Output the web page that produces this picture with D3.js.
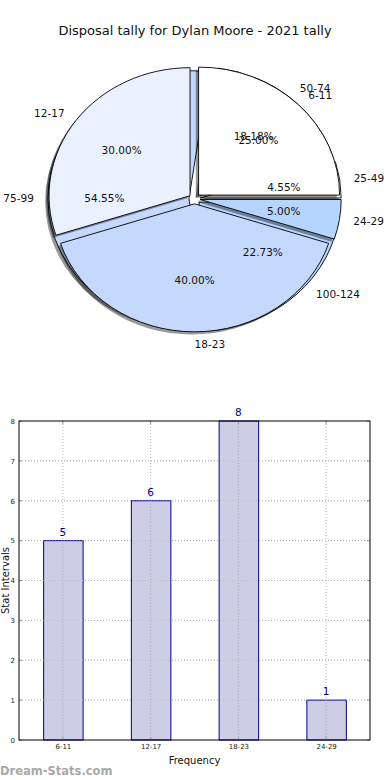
<!DOCTYPE html>
<html><head><meta charset="utf-8">
<script src="https://cdn.jsdelivr.net/npm/d3@7"></script>
<style>
html,body{margin:0;padding:0;background:#fff;}
svg{display:block;font-family:"DejaVu Sans",sans-serif;}
</style></head>
<body>
<svg id="c" width="390" height="780"></svg>
<script>
// ---------- data ----------
const titleText = "Disposal tally for Dylan Moore - 2021 tally";
const pieACats = ["6-11", "12-17", "18-23", "24-29"];
const pieAVals = [5, 6, 8, 1];
const pieBCats = ["25-49", "50-74", "75-99", "100-124"];
const pieBVals = [1, 4, 12, 5];
const pieColors = ["#ffffff", "#eaf1fe", "#c5d8fe", "#b6d5fe"];
const barCats = ["6-11", "12-17", "18-23", "24-29"];
const barVals = [5, 6, 8, 1];
const yTicks = [0, 1, 2, 3, 4, 5, 6, 7, 8];

const svg = d3.select("#c");

// ---------- title ----------
svg.append("text").attr("x", 195).attr("y", 35).attr("text-anchor", "middle")
  .attr("font-size", 13).attr("fill", "#111").text(titleText);

// ---------- pies ----------
const cx = 194.6, cy = 198.7, rx = 141, ry = 128, R = 100, explode = 0.04;
const sx = rx / R, sy = ry / R;
const pieGen = d3.pie().sort(null).value(d => d)
  .startAngle(Math.PI / 2).endAngle(Math.PI / 2 - 2 * Math.PI);
const arcGen = d3.arc().innerRadius(0).outerRadius(R);
const root = svg.append("g").attr("transform", `translate(${cx},${cy})`);

function wedgeInfo(a) {
  const mid = (a.startAngle + a.endAngle) / 2;
  const ux = Math.sin(mid), uy = -Math.cos(mid);
  return { mid, ux, uy, ox: explode * rx * ux, oy: explode * ry * uy };
}

function drawPie(vals, cats, gShadow, gWedge, gText) {
  const arcs = pieGen(vals);
  const total = d3.sum(vals);
  arcs.forEach((a, i) => {
    const w = wedgeInfo(a);
    gShadow.append("path")
      .attr("transform", `translate(${w.ox - 2.8},${w.oy + 2.6}) scale(${sx},${sy})`)
      .attr("d", arcGen(a)).attr("fill", "#000").attr("fill-opacity", 0.4);
    gWedge.append("path")
      .attr("transform", `translate(${w.ox},${w.oy}) scale(${sx},${sy})`)
      .attr("d", arcGen(a)).attr("fill", pieColors[i])
      .attr("stroke", "#000").attr("stroke-width", 0.9)
      .attr("stroke-linejoin", "round")
      .attr("vector-effect", "non-scaling-stroke");
    const lx = w.ox + 1.1 * rx * w.ux, ly = w.oy + 1.1 * ry * w.uy;
    gText.append("text").attr("x", lx).attr("y", ly).attr("dy", "0.35em")
      .attr("text-anchor", w.ux > -1e-6 ? "start" : "end")
      .attr("font-size", 10.5).attr("fill", "#111").text(cats[i]);
    const px = w.ox + 0.6 * rx * w.ux, py = w.oy + 0.6 * ry * w.uy;
    gText.append("text").attr("x", px).attr("y", py).attr("dy", "0.35em")
      .attr("text-anchor", "middle").attr("font-size", 10.5).attr("fill", "#111")
      .text((vals[i] / total * 100).toFixed(2) + "%");
  });
}
const gBs = root.append("g"), gBw = root.append("g");
const gAs = root.append("g"), gAw = root.append("g");
const gT = root.append("g");
drawPie(pieBVals, pieBCats, gBs, gBw, gT);
drawPie(pieAVals, pieACats, gAs, gAw, gT);

// ---------- bar chart ----------
const L = 19, Rr = 370, T = 421, B = 740;
const x = d3.scaleLinear().domain([-0.5, barCats.length - 0.5]).range([L, Rr]);
const y = d3.scaleLinear().domain([0, 8]).range([B, T]);
const bw = 0.45;
const gb = svg.append("g");

// grid
gb.selectAll(".gy").data(yTicks.slice(1, -1)).join("line")
  .attr("x1", L).attr("x2", Rr).attr("y1", d => y(d)).attr("y2", d => y(d))
  .attr("stroke", "#b8b8b8").attr("stroke-width", 1).attr("stroke-dasharray", "1,2");
gb.selectAll(".gx").data(barCats).join("line")
  .attr("x1", (d, i) => x(i)).attr("x2", (d, i) => x(i)).attr("y1", T).attr("y2", B)
  .attr("stroke", "#b8b8b8").attr("stroke-width", 1).attr("stroke-dasharray", "1,2");

// bars
gb.selectAll(".bar").data(barVals).join("rect")
  .attr("x", (d, i) => x(i - bw / 2) + 0.5).attr("width", x(bw) - x(0))
  .attr("y", d => y(d)).attr("height", d => B - y(d))
  .attr("fill", "#cdcde5").attr("stroke", "#00008b").attr("stroke-width", 1);
gb.selectAll(".gx2").data(barCats).join("line")
  .attr("x1", (d, i) => x(i)).attr("x2", (d, i) => x(i))
  .attr("y1", (d, i) => y(barVals[i])).attr("y2", B)
  .attr("stroke", "#a8a8b8").attr("stroke-width", 1).attr("stroke-dasharray", "1,2");
gb.selectAll(".gy2").data(yTicks.slice(1, -1)).join("line")
  .attr("x1", L).attr("x2", Rr).attr("y1", d => y(d)).attr("y2", d => y(d))
  .attr("stroke", "#b0b0b8").attr("stroke-width", 1).attr("stroke-dasharray", "1,2")
  .attr("stroke-opacity", 0.6);

// value labels
gb.selectAll(".vl").data(barVals).join("text")
  .attr("x", (d, i) => x(i)).attr("y", d => y(d) - 5)
  .attr("text-anchor", "middle").attr("font-size", 10.5).attr("fill", "#00008b")
  .text(d => d);

// axes
const yAxis = d3.axisLeft(y).tickValues(yTicks).tickSize(0).tickPadding(4);
const ya = gb.append("g").attr("transform", `translate(${L},0)`).call(yAxis);
ya.select(".domain").remove();
ya.selectAll("text").attr("font-size", 7).attr("fill", "#222").attr("font-family", "DejaVu Sans");
const xAxis = d3.axisBottom(x).tickValues(d3.range(barCats.length))
  .tickFormat(i => barCats[i]).tickSize(0).tickPadding(4);
const xa = gb.append("g").attr("transform", `translate(0,${B})`).call(xAxis);
xa.select(".domain").remove();
xa.selectAll("text").attr("font-size", 7).attr("fill", "#222").attr("font-family", "DejaVu Sans");

// inner ticks
yTicks.forEach(t => {
  gb.append("line").attr("x1", L).attr("x2", L + 3).attr("y1", y(t)).attr("y2", y(t)).attr("stroke", "#999");
  gb.append("line").attr("x1", Rr - 3).attr("x2", Rr).attr("y1", y(t)).attr("y2", y(t)).attr("stroke", "#999");
});
barCats.forEach((c, i) => {
  gb.append("line").attr("x1", x(i)).attr("x2", x(i)).attr("y1", B - 3).attr("y2", B).attr("stroke", "#999");
  gb.append("line").attr("x1", x(i)).attr("x2", x(i)).attr("y1", T).attr("y2", T + 3).attr("stroke", "#999");
});

// frame
gb.append("rect").attr("x", L).attr("y", T).attr("width", Rr - L).attr("height", B - T)
  .attr("fill", "none").attr("stroke", "#000").attr("stroke-width", 1);

// axis labels
svg.append("text").attr("transform", `translate(9,${(T + B) / 2}) rotate(-90)`)
  .attr("text-anchor", "middle").attr("font-size", 10).attr("fill", "#111").text("Stat Intervals");
svg.append("text").attr("x", (L + Rr) / 2).attr("y", 764).attr("text-anchor", "middle")
  .attr("font-size", 10).attr("fill", "#111").text("Frequency");

// watermark
svg.append("text").attr("x", 0).attr("y", 775).attr("font-size", 11.5)
  .attr("fill", "#a8a8a8").attr("font-weight", "bold").text("Dream-Stats.com");
</script>
</body></html>
